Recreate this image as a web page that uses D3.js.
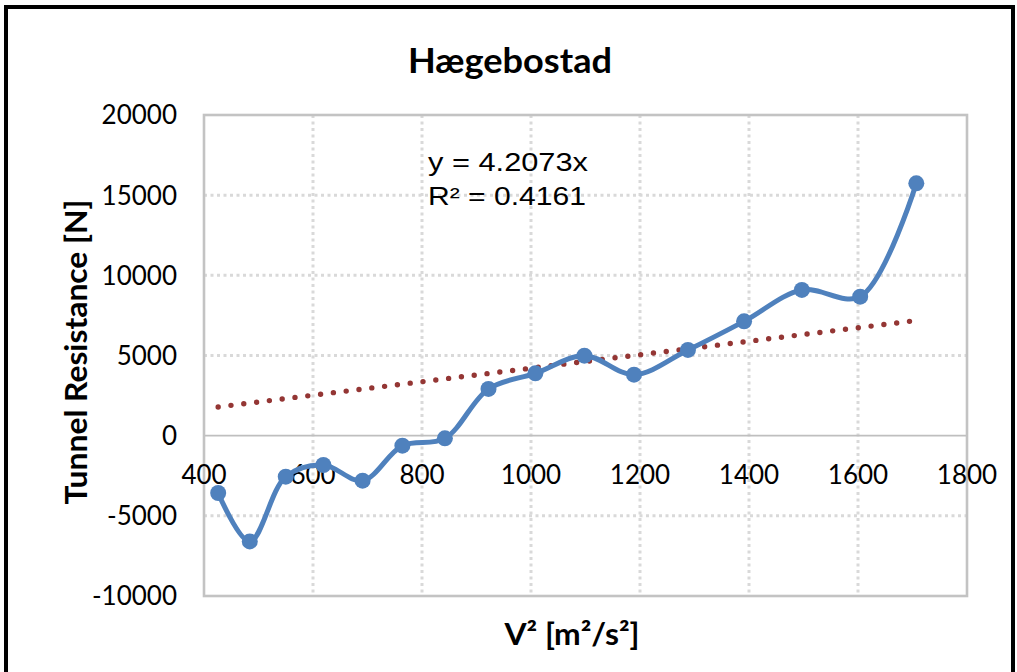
<!DOCTYPE html>
<html>
<head>
<meta charset="utf-8">
<script src="https://cdn.jsdelivr.net/npm/d3@7"></script>
<style>
  html, body { margin: 0; padding: 0; background: #fff; }
  svg { display: block; }
</style>
</head>
<body>
<svg id="chart" width="1017" height="672"></svg>
<script>
// ---- Data ----
const title = "Hægebostad";
const xTitle = "V² [m²/s²]";
const yTitle = "Tunnel Resistance [N]";
const xValues = [426, 484, 550, 619, 691, 764, 842, 922, 1008, 1098, 1189, 1288, 1391, 1497, 1604, 1707];
const yValues = [-3575, -6594, -2558, -1828, -2807, -624, -168, 2913, 3887, 4991, 3805, 5346, 7130, 9089, 8671, 15739];
const xTicks = [400, 600, 800, 1000, 1200, 1400, 1600, 1800];
const yTicks = [-10000, -5000, 0, 5000, 10000, 15000, 20000];
const trendSlope = 4.2073;
const equationLines = ["y = 4.2073x", "R² = 0.4161"];

// ---- Layout ----
const svg = d3.select("#chart");
const plot = { left: 204, right: 967, top: 115, bottom: 596 };

const x = d3.scaleLinear().domain([400, 1800]).range([plot.left, plot.right]);
const y = d3.scaleLinear().domain([-10000, 20000]).range([plot.bottom, plot.top]);

// outer frame
svg.append("rect")
  .attr("x", 6).attr("y", 7).attr("width", 1007).attr("height", 700)
  .attr("fill", "#fff").attr("stroke", "#000").attr("stroke-width", 4);

const font = "Lato, 'Open Sans', sans-serif";

// title
svg.append("text")
  .attr("x", 510).attr("y", 73)
  .attr("text-anchor", "middle")
  .attr("font-family", font)
  .attr("font-weight", "bold").attr("font-size", 35)
  .attr("textLength", 204).attr("lengthAdjust", "spacingAndGlyphs")
  .attr("fill", "#000")
  .text(title);

// grid
const gridColor = "#D9D9D9";
svg.append("g").selectAll("line")
  .data(xTicks.filter(v => v > 400 && v < 1800))
  .join("line")
  .attr("x1", d => x(d)).attr("x2", d => x(d))
  .attr("y1", plot.top).attr("y2", plot.bottom)
  .attr("stroke", gridColor).attr("stroke-width", 3)
  .attr("stroke-dasharray", "3 3.5");

svg.append("g").selectAll("line")
  .data(yTicks.filter(v => v !== 0 && v > -10000 && v < 20000))
  .join("line")
  .attr("x1", plot.left).attr("x2", plot.right)
  .attr("y1", d => y(d)).attr("y2", d => y(d))
  .attr("stroke", gridColor).attr("stroke-width", 3)
  .attr("stroke-dasharray", "3 3.5");

// zero line (x-axis)
svg.append("line")
  .attr("x1", plot.left).attr("x2", plot.right)
  .attr("y1", y(0)).attr("y2", y(0))
  .attr("stroke", "#BFBFBF").attr("stroke-width", 1.8);

// plot border
svg.append("rect")
  .attr("x", plot.left).attr("y", plot.top)
  .attr("width", plot.right - plot.left).attr("height", plot.bottom - plot.top)
  .attr("fill", "none").attr("stroke", "#C3C3C3").attr("stroke-width", 2.6);

// y tick labels
svg.append("g").selectAll("text")
  .data(yTicks)
  .join("text")
  .attr("x", 177).attr("y", d => y(d))
  .attr("dy", "0.36em")
  .attr("text-anchor", "end")
  .attr("font-family", font).attr("font-size", 26)
  .attr("fill", "#000")
  .text(d => d);

// x tick labels (below the zero line)
svg.append("g").selectAll("text")
  .data(xTicks)
  .join("text")
  .attr("x", d => x(d)).attr("y", y(0) + 48)
  .attr("text-anchor", "middle")
  .attr("font-family", font).attr("font-size", 26)
  .attr("fill", "#000")
  .text(d => d);

// axis titles
svg.append("text")
  .attr("transform", "translate(87,352) rotate(-90)")
  .attr("text-anchor", "middle")
  .attr("font-family", font).attr("font-weight", "bold").attr("font-size", 30)
  .attr("textLength", 305).attr("lengthAdjust", "spacingAndGlyphs")
  .attr("fill", "#000")
  .text(yTitle);

svg.append("text")
  .attr("x", 572).attr("y", 645)
  .attr("text-anchor", "middle")
  .attr("font-family", font).attr("font-weight", "bold").attr("font-size", 30)
  .attr("textLength", 135).attr("lengthAdjust", "spacingAndGlyphs")
  .attr("fill", "#000")
  .text(xTitle);

// trendline (y = slope * x) across data range
const xMin = d3.min(xValues), xMax = d3.max(xValues);
svg.append("line")
  .attr("x1", x(xMin)).attr("y1", y(trendSlope * xMin))
  .attr("x2", x(xMax)).attr("y2", y(trendSlope * xMax))
  .attr("stroke", "#943634").attr("stroke-width", 5.4)
  .attr("stroke-linecap", "round")
  .attr("stroke-dasharray", "0 12.9");

// data series
const pts = xValues.map((v, i) => [v, yValues[i]]);
const line = d3.line()
  .x(d => x(d[0])).y(d => y(d[1]))
  .curve(d3.curveCatmullRom.alpha(0.5));
svg.append("path")
  .attr("d", line(pts))
  .attr("fill", "none").attr("stroke", "#4F81BD").attr("stroke-width", 5)
  .attr("stroke-linejoin", "round");

svg.append("g").selectAll("circle")
  .data(pts)
  .join("circle")
  .attr("cx", d => x(d[0])).attr("cy", d => y(d[1]))
  .attr("r", 8)
  .attr("fill", "#4F81BD");

// equation label
const eqWidths = [160, 158];
svg.append("g").selectAll("text")
  .data(equationLines)
  .join("text")
  .attr("x", 428).attr("y", (d, i) => 171 + i * 34)
  .attr("font-family", "'Liberation Sans', Arial, sans-serif")
  .attr("font-size", 25)
  .attr("textLength", (d, i) => eqWidths[i])
  .attr("lengthAdjust", "spacingAndGlyphs")
  .attr("fill", "#000")
  .text(d => d);
</script>
</body>
</html>
